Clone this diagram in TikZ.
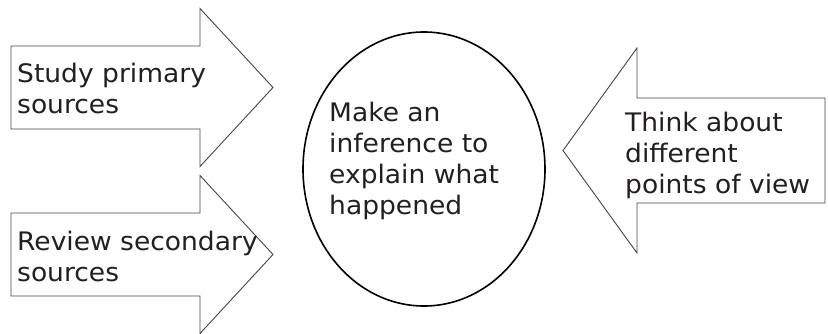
\documentclass[tikz,border=0pt]{standalone}
\usepackage{fontspec}
\setmainfont[FakeStretch=1.04]{DejaVu Sans}
\usepackage{tikz}
\usetikzlibrary{shapes.geometric, positioning}
\definecolor{InkGray}{RGB}{35,31,32}
\definecolor{EdgeGray}{RGB}{70,70,70}

\begin{document}
\begin{tikzpicture}[x=1pt, y=-1pt,
          blockarrow/.style={draw=EdgeGray, line width=0.9pt, fill=white,
                             line join=miter},
          bubble/.style={ellipse, draw=black, line width=1.6pt,
                         minimum width=242pt, minimum height=274pt,
                         inner sep=0pt},
          lbl/.style={anchor=north west, inner sep=0pt, align=left,
                      text=InkGray, font=\fontsize{25.5}{31}\selectfont}
        ]
        \useasboundingbox (0,0) rectangle (828,333);

        % Left arrows pointing to the middle
        \foreach \cy in {87.5, 254.5} {
          \draw[blockarrow] (11,\cy-41.5) -- (200,\cy-41.5) -- (200,\cy-79)
                -- (273,\cy) -- (200,\cy+79) -- (200,\cy+41.5)
                -- (11,\cy+41.5) -- cycle;
        }
        \node[lbl] (study) at (17,63) {Study primary\\sources};
        \node[lbl] (review) at (17,231) {Review secondary\\sources};

        % Right arrow pointing back
        \draw[blockarrow] (825,98) -- (637,98) -- (637,48) -- (563,150.5)
              -- (637,253) -- (637,203) -- (825,203) -- cycle;
        \node[lbl] (think) at (625,112) {Think about\\different\\points of view};

        % Middle
        \node[bubble] (infer) at (424,169) {};
        \node[lbl] (infertext) at (329,102)
              {Make an\\inference to\\explain what\\happened};
      \end{tikzpicture}
\end{document}
